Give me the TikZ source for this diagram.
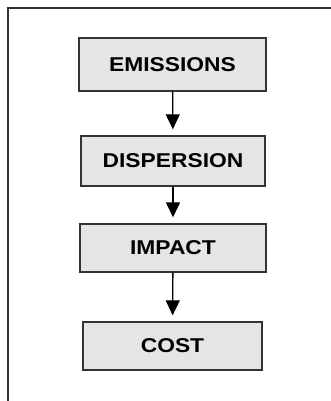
\documentclass[tikz,border=0pt]{standalone}
\usepackage{fontspec}
\usepackage{xcolor}
\newfontfamily\boxfont[FakeStretch=1.14]{Liberation Sans}
\definecolor{boxfill}{rgb}{0.90,0.90,0.90}
\definecolor{edge}{rgb}{0.2,0.2,0.2}
\usetikzlibrary{arrows.meta}
\usetikzlibrary{positioning}

\begin{document}
\begin{tikzpicture}[x=1pt,y=-1pt, every node/.style={font=\boxfont\bfseries\fontsize{20}{23}\selectfont},
  stage/.style={draw=edge, line width=1.4pt, fill=boxfill, inner sep=0pt},
  flow/.style={line width=1.3pt, -{Triangle[width=14pt,length=15pt]}, shorten >=6pt}]

  \useasboundingbox (0,0) rectangle (331,401);

  % frame
  \draw[line width=1.5pt, color=edge] (331,8) -- (8,8) -- (8,401);

  % Stages
  \node[stage, minimum width=187pt, minimum height=53pt] (emis) at (172.5,64.5) {EMISSIONS};
  \node[stage, minimum width=184pt, minimum height=50pt] (disp) at (173,161) {DISPERSION};
  \node[stage, minimum width=186pt, minimum height=48pt] (imp) at (173,248) {IMPACT};
  \node[stage, minimum width=179pt, minimum height=48pt] (cost) at (172.5,346) {COST};

  % Arrows
  \draw[flow] (emis) -- (disp);
  \draw[flow] (disp) -- (imp);
  \draw[flow] (imp) -- (cost);

\end{tikzpicture}
\end{document}
